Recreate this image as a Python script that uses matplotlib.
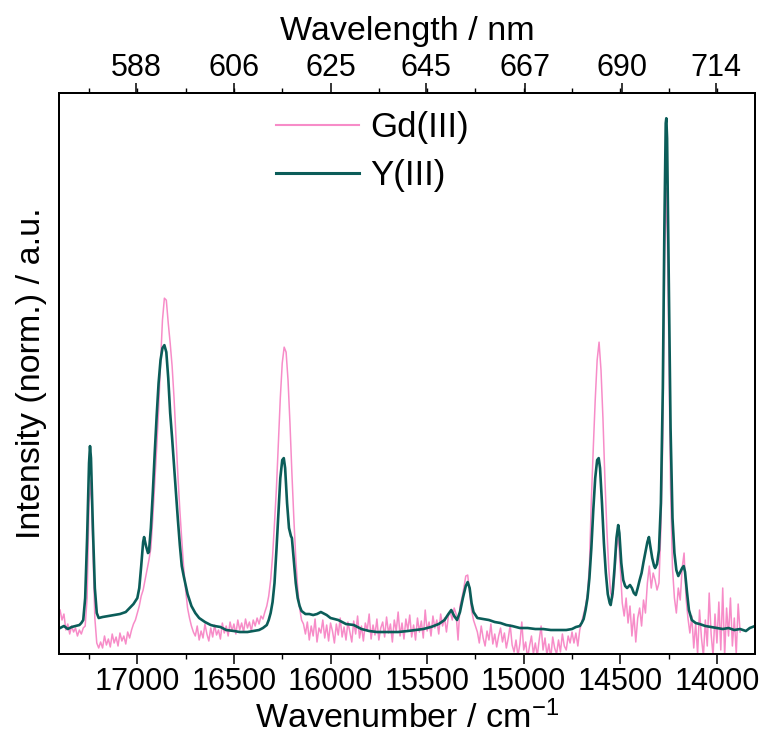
import numpy as np
import matplotlib
matplotlib.use("Agg")
import matplotlib.pyplot as plt
from matplotlib.ticker import MultipleLocator, FixedLocator

plt.rcParams['font.family'] = ['Liberation Sans', 'DejaVu Sans']
plt.rcParams['mathtext.fontset'] = 'custom'
plt.rcParams['mathtext.rm'] = 'Liberation Sans'
plt.rcParams['mathtext.default'] = 'regular'

# ---------------- data ----------------
# Y(III): wavenumber / cm-1 and intensity (a.u.)
y3_wn = [17400, 17380, 17360, 17340, 17320, 17300, 17290, 17280, 17270, 17260, 17250, 17245, 17240, 17230,
         17220, 17210, 17200, 17180, 17150, 17120, 17090, 17060, 17040, 17020, 17000, 16990, 16980, 16970,
         16965, 16955, 16945, 16940, 16930, 16920, 16910, 16900, 16890, 16880, 16870, 16860, 16850, 16840,
         16830, 16820, 16810, 16800, 16790, 16780, 16770, 16760, 16750, 16740, 16720, 16700, 16680, 16650,
         16620, 16600, 16570, 16540, 16500, 16470, 16430, 16400, 16370, 16350, 16330, 16320, 16310, 16300,
         16290, 16280, 16270, 16260, 16250, 16242, 16235, 16225, 16215, 16205, 16200, 16190, 16180, 16170,
         16160, 16150, 16130, 16110, 16090, 16070, 16050, 16040, 16020, 16000, 15960, 15920, 15880, 15840,
         15800, 15760, 15720, 15690, 15650, 15600, 15560, 15520, 15480, 15440, 15410, 15390, 15375, 15360,
         15345, 15330, 15315, 15300, 15290, 15280, 15270, 15260, 15240, 15210, 15180, 15150, 15120, 15090,
         15060, 15020, 14980, 14940, 14900, 14860, 14820, 14780, 14750, 14730, 14710, 14700, 14690, 14680,
         14670, 14660, 14650, 14640, 14630, 14620, 14612, 14605, 14595, 14585, 14575, 14565, 14555, 14550,
         14540, 14530, 14520, 14511, 14505, 14495, 14485, 14475, 14465, 14450, 14440, 14430, 14420, 14410,
         14400, 14390, 14380, 14370, 14360, 14352, 14345, 14335, 14325, 14320, 14310, 14300, 14290, 14280,
         14272, 14265, 14262, 14258, 14250, 14240, 14230, 14220, 14210, 14200, 14190, 14180, 14172, 14165,
         14155, 14145, 14130, 14110, 14090, 14060, 14030, 14000, 13970, 13940, 13910, 13880, 13850, 13830,
         13803]
y3_int = [0, 2, -1, 1, 2, 3, 5, 8, 30, 90, 165, 182, 170, 100,
          40, 15, 10, 11, 12, 13, 14, 16, 20, 24, 30, 40, 62, 86,
          91, 82, 75, 76, 100, 135, 175, 212, 245, 268, 280, 283, 276, 250,
          215, 190, 162, 135, 108, 83, 62, 52, 43, 34, 22, 15, 10, 6,
          3, 2, 1, -2, -3, -4, -4, -3, -2, 0, 3, 8, 15, 26,
          45, 78, 115, 150, 168, 170, 160, 125, 100, 92, 90, 68, 45, 30,
          22, 17, 14, 14, 13, 14, 16, 15, 13, 10, 8, 4, 3, -1,
          -3, -4, -4, -4, -4, -3, -2, -1, 1, 4, 8, 14, 18, 12,
          8, 16, 30, 42, 46, 40, 25, 16, 10, 9, 8, 6, 5, 3,
          2, 0, 0, -1, -1, -2, -2, -2, -1, 1, 2, 5, 9, 18,
          30, 50, 80, 118, 150, 168, 170, 160, 125, 85, 55, 34, 25, 23,
          35, 60, 90, 103, 95, 65, 48, 42, 40, 43, 40, 35, 33, 40,
          48, 55, 66, 76, 86, 91, 82, 70, 62, 60, 64, 78, 125, 240,
          400, 505, 510, 490, 360, 200, 110, 75, 58, 52, 56, 60, 62, 56,
          36, 18, 8, 5, 4, 2, 1, 0, -1, 0, -2, -1, -3, 0,
          2]

# Gd(III): intensities on a 10 cm-1 grid from 17400 down to 13880 cm-1
gd_start, gd_stop, gd_step = 17400, 13880, 10
gd_int = [
    18, 8, 14, -2, 4, -6, 2, -4, 0, -8,              # 17400
    -2, -6, 0, 2, 30, 125, 148, 80, 10, -15,          # 17300
    -20, -14, -20, -8, -17, -11, -19, -6, -15, -9,    # 17200
    -18, -5, -13, -8, -16, -4, -10, -2, 4, 8,         # 17100
    15, 22, 32, 38, 48, 58, 68, 80, 110, 145,         # 17000
    180, 218, 265, 308, 330, 328, 305, 285, 262, 230, # 16900
    190, 152, 118, 88, 60, 38, 20, 10, 2, -4,         # 16800
    -8, 2, -12, -3, -10, 4, -6, -13, 0, -9,           # 16700
    3, -7, -2, -11, 5, -5, 2, -8, 6, -3,              # 16600
    4, -6, 8, -2, 5, -4, 9, 0, 6, -3,                 # 16500
    8, 2, 10, 4, 12, 9, 16, 22, 32, 48,               # 16400
    72, 105, 140, 185, 230, 265, 281, 276, 248, 205,  # 16300
    155, 110, 70, 40, 20, 8, 4, -6, 6, -12,           # 16200
    2, -8, 9, -14, 0, -5, 8, -10, 3, -13,             # 16100
    5, -3, -15, 4, -7, 10, -9, 1, -12, 6,             # 16000
    -4, -14, 7, -6, 12, -10, 2, -13, 5, -2,           # 15900
    14, -11, 3, -7, 9, -12, 0, 6, -9, 11,             # 15800
    -5, 4, -14, 8, -3, 16, -8, 5, -11, 9,             # 15700
    -2, 13, -9, 3, -12, 10, -4, 7, -10, 18,           # 15600
    -3, 6, -8, 12, 0, 8, -6, 14, 2, 10,               # 15500
    -4, 12, 16, 8, 20, 14, -12, 22, 30, 40,           # 15400
    52, 53, 35, 18, 8, 2, -4, -15, 2, -10,            # 15300
    -18, -3, -12, 4, -16, -6, -19, -8, 0, -14,        # 15200
    -5, -20, -10, 3, -17, -24, -12, -28, -16, 6,      # 15100
    -22, -14, -30, -18, -8, -26, -15, -28, -12, 2,    # 15000
    -22, -10, -27, -16, -30, -9, -20, -26, -12, -24,  # 14900
    -6, -18, -22, -8, -15, -4, -15, -5, -18, -2,      # 14800
    6, 14, 22, 34, 62, 128, 180, 228, 268, 286,       # 14700
    258, 210, 150, 100, 60, 35, 30, 50, 80, 92,       # 14600
    60, 25, 12, 30, 5, 22, -8, 14, -14, 10,           # 14500
    20, 2, 28, 15, 45, 62, 40, 55, 48, 38,            # 14400
    45, 100, 190, 380, 440, 300, 140, 60, 30, 15,     # 14300
    40, 28, 60, 75, 30, 10, -5, 12, -20, 5,           # 14200
    -26, 18, -10, -28, 8, -18, 35, -6, -28, 14,       # 14100
    -15, 26, -22, 40, -28, 20, -8, 30, -18, 10,       # 14000
    -26, 24, -4,                                      # 13900
]
gd_wn = np.arange(gd_start, gd_stop - 1, -gd_step)

bottom_ticks = [17000, 16500, 16000, 15500, 15000, 14500, 14000]
top_labels = [588, 606, 625, 645, 667, 690, 714]
series_names = ["Gd(III)", "Y(III)"]

pink = "#f78cc8"
teal = "#0b5d59"

# ---------------- figure ----------------
fig = plt.figure(figsize=(7.64, 7.42), dpi=100)
ax = fig.add_axes([0.0776, 0.1186, 0.9106, 0.7557])

ax.plot(gd_wn, gd_int, color=pink, lw=1.1, label=series_names[0])
ax.plot(y3_wn, y3_int, color=teal, lw=1.9, label=series_names[1])

ax.set_xlim(17404, 13803)
ax.set_ylim(-26, 535)
ax.set_yticks([])
ax.xaxis.set_major_locator(FixedLocator(bottom_ticks))
ax.xaxis.set_minor_locator(MultipleLocator(250))
ax.tick_params(axis='x', which='major', direction='out', length=7.2, width=1.1,
               labelsize=22, pad=2)
ax.tick_params(axis='x', which='minor', direction='out', length=3.8, width=1.0)
for s in ax.spines.values():
    s.set_linewidth(1.4)

ax.set_xlabel("Wavenumber / cm$^{-1}$", fontsize=24.5, labelpad=3)
ax.set_ylabel("Intensity (norm.) / a.u.", fontsize=24.5, labelpad=9)

ax2 = ax.twiny()
ax2.set_xlim(ax.get_xlim())
ax2.xaxis.set_major_locator(FixedLocator([1e7 / w for w in top_labels]))
ax2.set_xticklabels([str(w) for w in top_labels])
ax2.xaxis.set_minor_locator(MultipleLocator(250))
ax2.tick_params(axis='x', which='major', direction='out', length=7.2, width=1.1,
                labelsize=22, pad=0.5)
ax2.tick_params(axis='x', which='minor', direction='out', length=3.8, width=1.0)
ax2.set_xlabel("Wavelength / nm", fontsize=24.5, labelpad=9)
for s in ax2.spines.values():
    s.set_linewidth(1.4)

leg = ax.legend(loc='upper left', bbox_to_anchor=(0.3115, 0.968), frameon=False,
                fontsize=25, handlelength=2.4, handletextpad=0.32, labelspacing=0.42,
                borderpad=0, borderaxespad=0)
leg.get_lines()[0].set_linewidth(1.5)
leg.get_lines()[1].set_linewidth(2.2)

fig.savefig("out.png", dpi=100)
